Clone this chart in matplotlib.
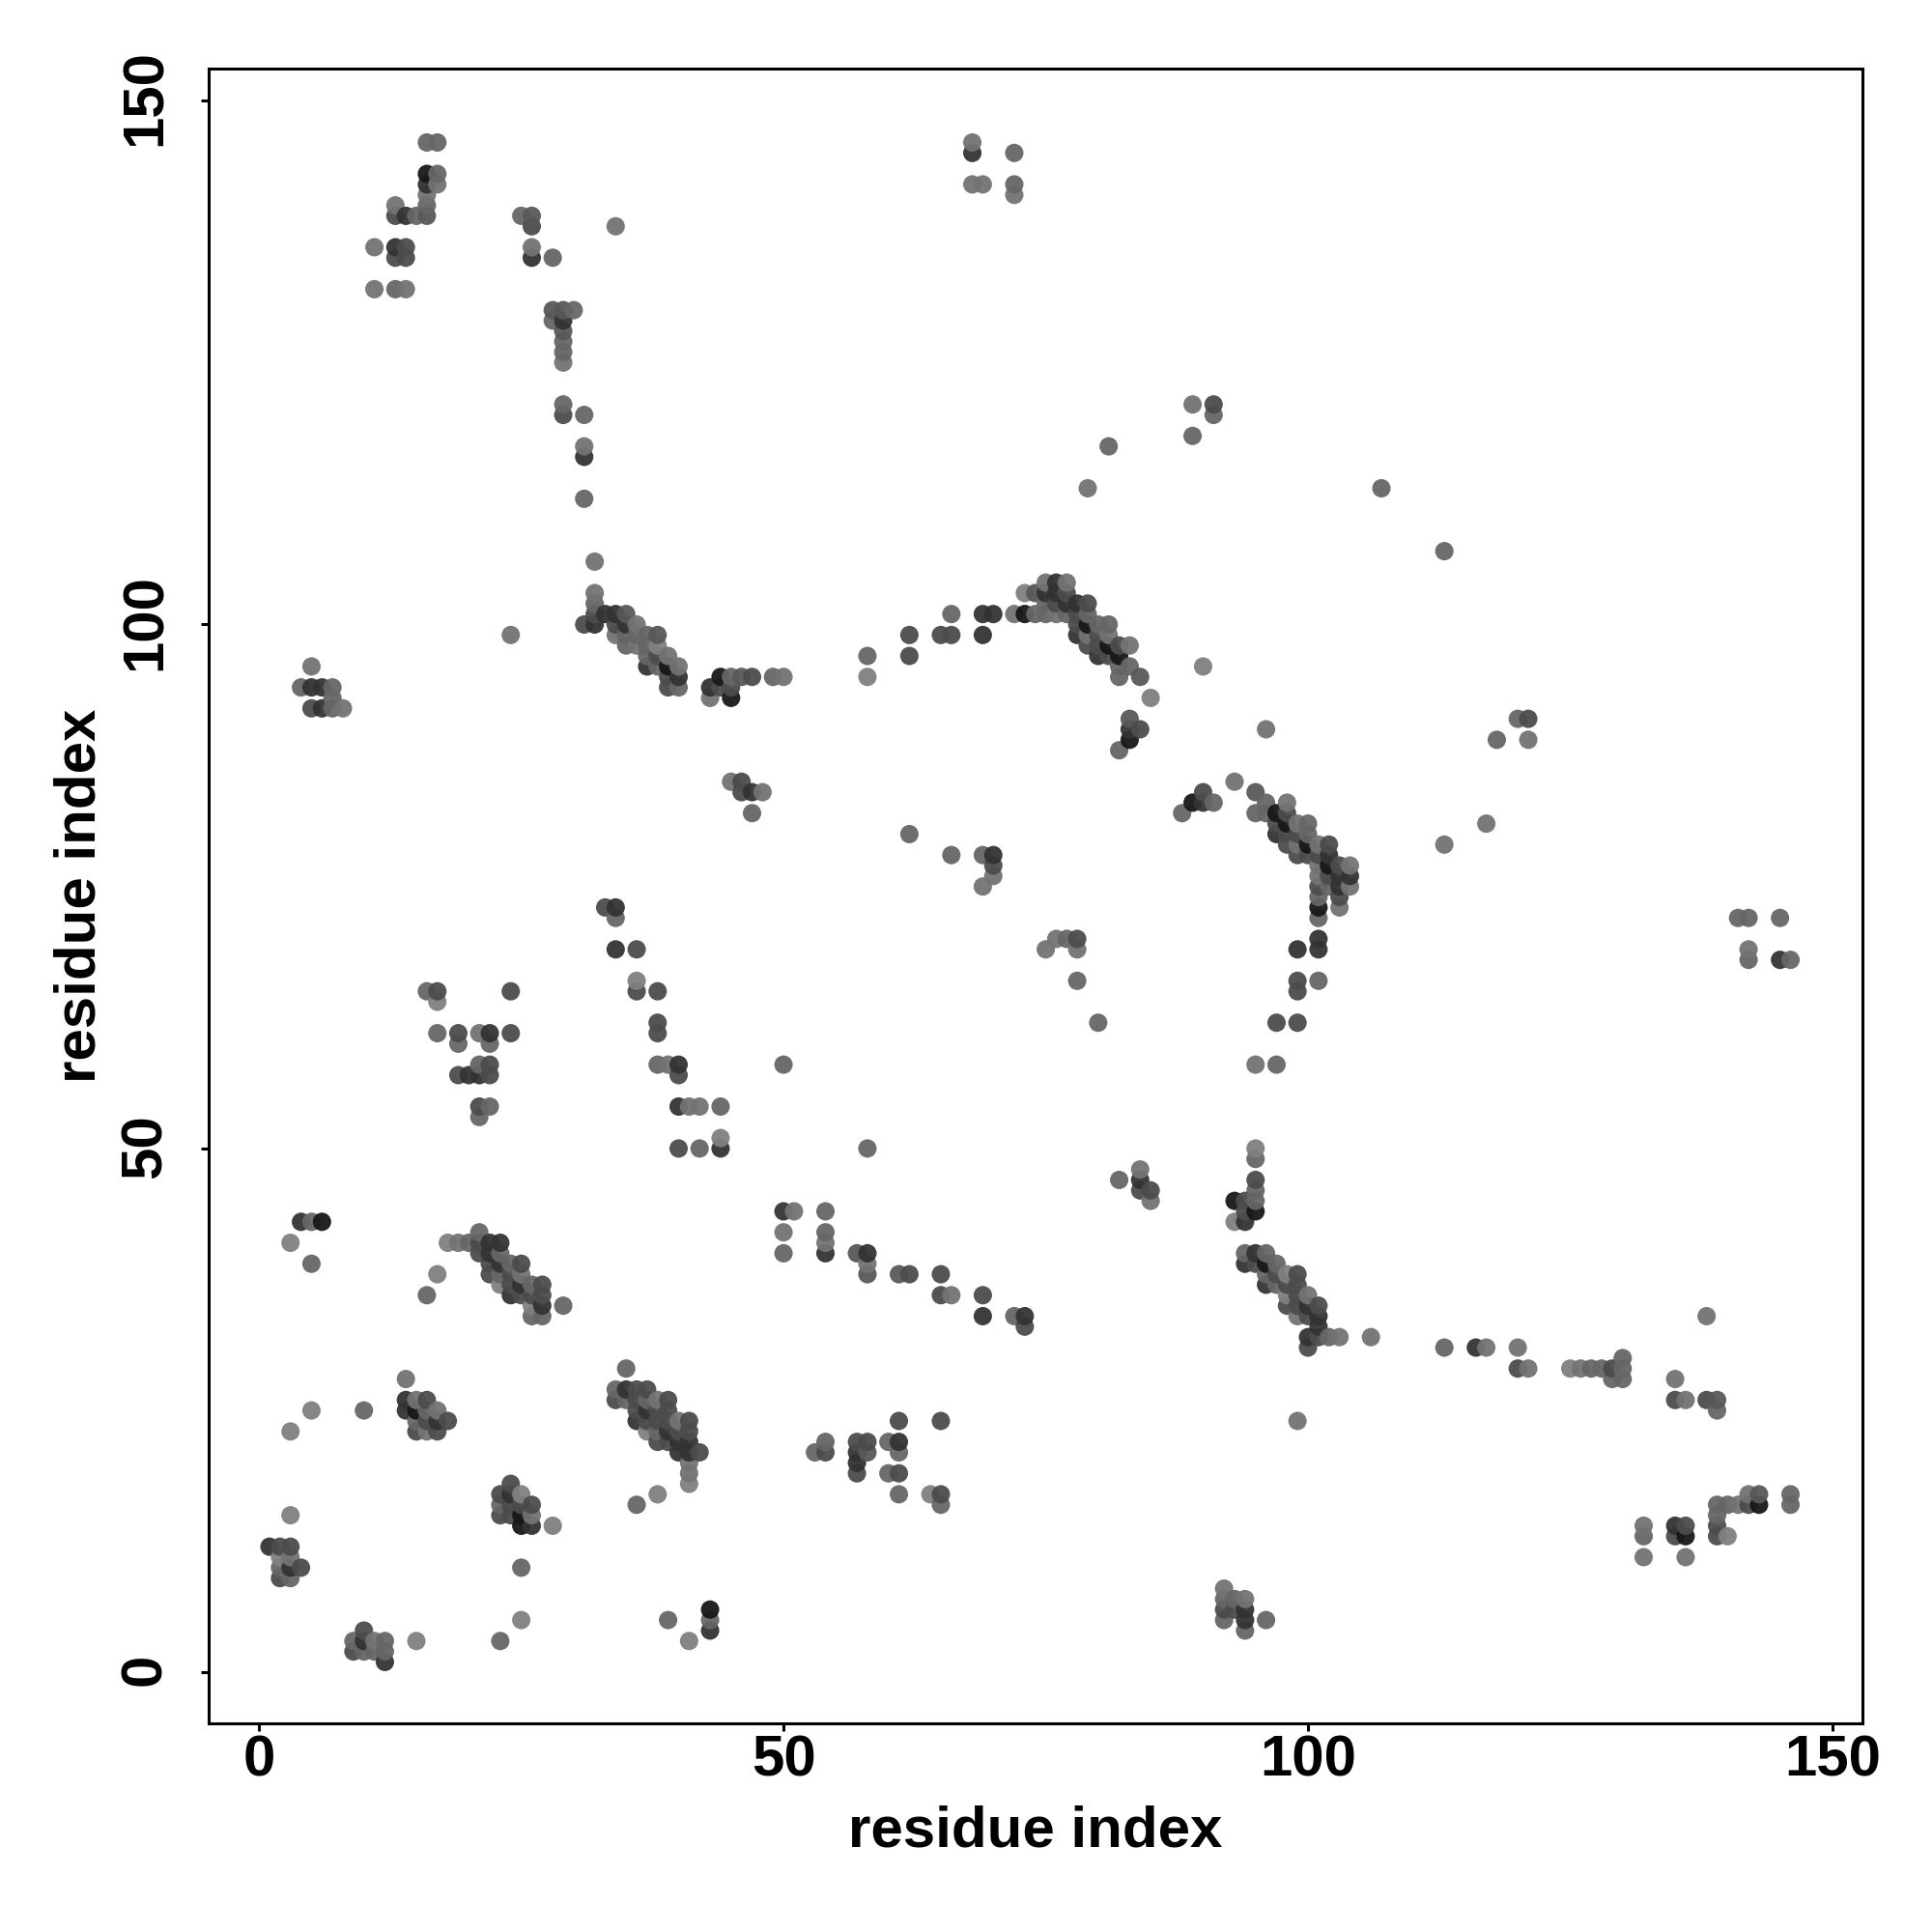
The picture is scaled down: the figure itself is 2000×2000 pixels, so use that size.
#!/usr/bin/env python3
import matplotlib as mpl
import matplotlib.pyplot as plt
import numpy as np
from matplotlib.transforms import ScaledTranslation

mpl.rcParams["font.family"] = ["Liberation Sans", "DejaVu Sans"]
mpl.rcParams["font.weight"] = "bold"

# contact map, one line per residue on the x axis
res_x = [
    1,
    2, 2, 2, 2,
    3, 3, 3, 3, 3, 3, 3,
    4, 4, 4,
    5, 5, 5, 5, 5, 5,
    6, 6, 6,
    7, 7, 7,
    8,
    9, 9,
    10, 10, 10, 10,
    11, 11, 11, 11,
    12, 12, 12,
    13, 13, 13, 13, 13,
    14, 14, 14, 14, 14, 14, 14,
    15, 15, 15, 15, 15, 15,
    16, 16, 16, 16, 16, 16, 16, 16, 16, 16, 16, 16,
    17, 17, 17, 17, 17, 17, 17, 17, 17, 17,
    18, 18,
    19, 19, 19, 19,
    20, 20,
    21, 21, 21, 21, 21, 21, 21, 21,
    22, 22, 22, 22, 22, 22, 22, 22, 22,
    23, 23, 23, 23, 23, 23, 23, 23, 23,
    24, 24, 24, 24, 24, 24, 24, 24, 24, 24, 24,
    25, 25, 25, 25, 25, 25, 25, 25, 25, 25, 25,
    26, 26, 26, 26, 26, 26, 26, 26, 26, 26, 26,
    27, 27, 27, 27,
    28, 28, 28, 28,
    29, 29, 29, 29, 29, 29, 29, 29, 29,
    30,
    31, 31, 31, 31, 31,
    32, 32, 32, 32, 32,
    33, 33,
    34, 34, 34, 34, 34, 34, 34, 34, 34,
    35, 35, 35, 35, 35, 35, 35,
    36, 36, 36, 36, 36, 36, 36, 36, 36, 36, 36,
    37, 37, 37, 37, 37, 37, 37, 37, 37,
    38, 38, 38, 38, 38, 38, 38, 38, 38, 38, 38, 38, 38, 38,
    39, 39, 39, 39, 39, 39, 39, 39, 39, 39, 39,
    40, 40, 40, 40, 40, 40, 40, 40, 40, 40, 40,
    41, 41, 41, 41, 41, 41, 41, 41, 41,
    42, 42, 42,
    43, 43, 43, 43, 43,
    44, 44, 44, 44, 44,
    45, 45, 45, 45,
    46, 46, 46,
    47, 47, 47,
    48,
    49,
    50, 50, 50, 50, 50,
    51,
    53,
    54, 54, 54, 54, 54, 54,
    57, 57, 57, 57, 57,
    58, 58, 58, 58, 58, 58, 58, 58,
    60, 60,
    61, 61, 61, 61, 61, 61,
    62, 62, 62, 62,
    64,
    65, 65, 65, 65, 65, 65,
    66, 66, 66, 66,
    68, 68, 68,
    69, 69, 69, 69, 69, 69, 69,
    70, 70, 70, 70,
    72, 72, 72, 72, 72,
    73, 73, 73, 73,
    74, 74,
    75, 75, 75, 75, 75,
    76, 76, 76, 76, 76,
    77, 77, 77, 77, 77,
    78, 78, 78, 78, 78, 78, 78,
    79, 79, 79, 79, 79, 79,
    80, 80, 80, 80, 80,
    81, 81, 81, 81, 81,
    82, 82, 82, 82, 82, 82,
    83, 83, 83, 83, 83,
    84, 84, 84, 84, 84,
    85, 85, 85,
    88,
    89, 89, 89,
    90, 90, 90,
    91, 91, 91,
    92, 92, 92, 92,
    93, 93, 93, 93, 93,
    94, 94, 94, 94, 94, 94, 94, 94, 94,
    95, 95, 95, 95, 95, 95, 95, 95, 95, 95, 95,
    96, 96, 96, 96, 96, 96, 96, 96,
    97, 97, 97, 97, 97, 97, 97, 97,
    98, 98, 98, 98, 98, 98, 98, 98, 98,
    99, 99, 99, 99, 99, 99, 99, 99, 99, 99, 99, 99, 99, 99,
    100, 100, 100, 100, 100, 100, 100, 100, 100,
    101, 101, 101, 101, 101, 101, 101, 101, 101, 101, 101, 101, 101, 101, 101,
    102, 102, 102, 102, 102, 102,
    103, 103, 103, 103, 103, 103,
    104, 104, 104,
    106,
    107,
    113, 113, 113,
    116,
    117, 117,
    118,
    120, 120, 120,
    121, 121, 121,
    125,
    126,
    127,
    128,
    129, 129,
    130, 130, 130,
    132, 132, 132,
    135, 135, 135, 135,
    136, 136, 136, 136,
    138, 138,
    139, 139, 139, 139, 139, 139,
    140, 140,
    141, 141,
    142, 142, 142, 142, 142,
    143, 143,
    145, 145,
    146, 146, 146,
]
res_y = [
    12,
    9, 10, 11, 12,
    9, 10, 11, 12, 15, 23, 41,
    10, 43, 94,
    25, 39, 43, 92, 94, 96,
    43, 92, 94,
    92, 93, 94,
    92,
    2, 3,
    2, 3, 4, 25,
    2, 3, 132, 136,
    1, 2, 3,
    132, 135, 136, 139, 140,
    25, 26, 28, 132, 135, 136, 139,
    3, 23, 24, 25, 26, 139,
    23, 24, 25, 26, 36, 65, 139, 140, 141, 142, 143, 146,
    23, 24, 25, 38, 61, 64, 65, 142, 143, 146,
    24, 41,
    41, 57, 60, 61,
    41, 57,
    40, 41, 42, 53, 54, 57, 58, 61,
    38, 39, 40, 41, 54, 57, 58, 60, 61,
    3, 15, 16, 17, 37, 38, 39, 40, 41,
    15, 16, 17, 18, 36, 37, 38, 39, 61, 65, 99,
    5, 10, 14, 15, 16, 17, 36, 37, 38, 39, 139,
    14, 15, 16, 34, 35, 36, 37, 135, 136, 138, 139,
    34, 35, 36, 37,
    14, 129, 130, 135,
    35, 120, 121, 125, 126, 127, 128, 129, 130,
    130,
    100, 112, 116, 117, 120,
    100, 101, 102, 103, 106,
    73, 101,
    26, 27, 69, 72, 73, 99, 100, 101, 138,
    26, 27, 29, 98, 99, 100, 101,
    16, 24, 25, 26, 27, 65, 66, 69, 98, 99, 100,
    23, 24, 25, 26, 27, 96, 97, 98, 99,
    17, 22, 23, 24, 25, 26, 58, 61, 62, 65, 96, 97, 98, 99,
    5, 22, 23, 24, 25, 26, 58, 94, 95, 96, 97,
    21, 22, 23, 24, 50, 54, 57, 58, 94, 95, 96,
    3, 18, 19, 20, 21, 22, 23, 24, 54,
    21, 50, 54,
    4, 5, 6, 93, 94,
    50, 51, 54, 94, 95,
    85, 93, 94, 95,
    84, 85, 95,
    82, 84, 95,
    84,
    95,
    40, 42, 44, 58, 95,
    44,
    21,
    21, 22, 40, 41, 42, 44,
    19, 20, 21, 22, 40,
    21, 22, 38, 39, 40, 50, 95, 97,
    19, 22,
    17, 19, 21, 22, 24, 38,
    38, 80, 97, 99,
    17,
    16, 17, 24, 36, 38, 99,
    36, 78, 99, 101,
    142, 145, 146,
    34, 36, 75, 78, 99, 101, 142,
    76, 77, 78, 101,
    34, 101, 141, 142, 145,
    33, 34, 101, 103,
    101, 103,
    69, 101, 102, 103, 104,
    70, 101, 102, 103, 104,
    70, 101, 102, 103, 104,
    66, 69, 70, 99, 100, 101, 102,
    98, 99, 100, 101, 102, 113,
    62, 97, 98, 99, 100,
    97, 98, 99, 100, 117,
    47, 88, 95, 96, 97, 98,
    89, 90, 91, 96, 98,
    46, 47, 48, 90, 95,
    45, 46, 93,
    82,
    83, 118, 121,
    83, 84, 96,
    83, 120, 121,
    5, 6, 7, 8,
    6, 7, 43, 45, 85,
    4, 5, 6, 7, 39, 40, 43, 44, 45,
    39, 40, 44, 45, 46, 47, 49, 50, 58, 82, 84,
    5, 37, 38, 39, 40, 82, 83, 90,
    37, 38, 39, 58, 62, 80, 81, 82,
    35, 36, 37, 38, 79, 80, 81, 82, 83,
    24, 34, 35, 36, 37, 38, 62, 65, 66, 69, 78, 79, 80, 81,
    31, 32, 34, 35, 36, 78, 79, 80, 81,
    32, 33, 34, 35, 66, 69, 70, 72, 73, 74, 75, 76, 77, 78, 79,
    32, 75, 76, 77, 78, 79,
    32, 73, 74, 75, 76, 77,
    75, 76, 77,
    32,
    113,
    31, 79, 107,
    31,
    31, 81,
    89,
    29, 31, 91,
    29, 89, 91,
    29,
    29,
    29,
    29,
    28, 29,
    28, 29, 30,
    11, 13, 14,
    13, 14, 26, 28,
    11, 13, 14, 26,
    26, 34,
    13, 14, 15, 16, 25, 26,
    13, 16,
    16, 72,
    16, 17, 68, 69, 72,
    16, 17,
    68, 72,
    16, 17, 68,
]
# grey level of each point, 0 black to 255 white
grey = [
    51,
    76, 102, 128, 76,
    102, 51, 115, 76, 128, 128, 128,
    76, 51, 102,
    128, 102, 102, 76, 51, 115,
    24, 51, 51,
    102, 102, 102,
    115,
    76, 102,
    102, 51, 76, 102,
    102, 115, 115, 115,
    51, 102, 102,
    102, 76, 51, 76, 115,
    51, 51, 115, 115, 76, 76, 51,
    128, 76, 102, 24, 115, 102,
    115, 76, 102, 76, 102, 102, 88, 102, 115, 51, 24, 102,
    76, 51, 115, 128, 102, 128, 76, 115, 102, 102,
    76, 128,
    115, 76, 102, 76,
    102, 51,
    76, 76, 102, 102, 76, 51, 102, 115,
    76, 76, 51, 51, 102, 76, 76, 102, 51,
    102, 76, 102, 76, 128, 102, 51, 102, 51,
    76, 76, 51, 76, 51, 76, 76, 102, 76, 76, 115,
    128, 102, 24, 24, 76, 128, 76, 51, 115, 76, 102,
    51, 115, 76, 102, 128, 76, 102, 51, 115, 76, 88,
    102, 51, 76, 76,
    128, 102, 88, 102,
    102, 76, 102, 115, 102, 102, 88, 51, 88,
    102,
    76, 102, 51, 115, 102,
    51, 76, 102, 115, 115,
    76, 51,
    76, 102, 51, 102, 51, 115, 76, 51, 115,
    102, 51, 102, 102, 102, 51, 88,
    102, 51, 76, 76, 76, 76, 128, 76, 115, 102, 115,
    128, 76, 51, 102, 76, 51, 102, 102, 102,
    128, 76, 102, 76, 76, 115, 102, 76, 76, 76, 102, 76, 128, 88,
    102, 76, 51, 76, 76, 76, 115, 76, 76, 24, 115,
    51, 51, 76, 115, 76, 51, 76, 51, 102, 51, 115,
    128, 128, 115, 115, 51, 51, 76, 76, 115,
    76, 102, 115,
    51, 102, 24, 115, 51,
    51, 128, 102, 76, 24,
    115, 24, 76, 102,
    76, 76, 88,
    102, 51, 76,
    115,
    102,
    102, 115, 51, 102, 115,
    115,
    102,
    76, 102, 51, 115, 102, 102,
    76, 51, 51, 76, 88,
    88, 76, 88, 115, 51, 102, 128, 102,
    102, 102,
    102, 76, 102, 51, 76, 88,
    76, 102, 76, 76,
    128,
    102, 76, 76, 76, 76, 76,
    115, 102, 76, 102,
    115, 51, 115,
    51, 76, 115, 102, 51, 51, 115,
    115, 76, 51, 51,
    102, 115, 115, 102, 102,
    76, 51, 24, 128,
    102, 88,
    115, 102, 102, 51, 115,
    115, 115, 76, 51, 51,
    102, 102, 51, 76, 115,
    102, 115, 76, 51, 76, 76, 51,
    76, 115, 24, 102, 76, 115,
    102, 51, 76, 76, 102,
    76, 24, 115, 102, 102,
    102, 102, 102, 102, 24, 76,
    24, 51, 88, 102, 115,
    76, 51, 115, 76, 88,
    115, 76, 128,
    102,
    24, 102, 115,
    51, 76, 128,
    102, 102, 76,
    102, 76, 102, 115,
    76, 102, 128, 24, 115,
    102, 51, 51, 115, 51, 102, 51, 76, 76,
    76, 51, 24, 102, 102, 76, 102, 128, 115, 102, 88,
    102, 51, 102, 24, 102, 102, 102, 115,
    102, 76, 102, 102, 76, 51, 76, 24,
    76, 128, 76, 128, 76, 76, 24, 76, 115,
    115, 115, 76, 76, 76, 76, 76, 76, 76, 51, 76, 115, 76, 115,
    76, 51, 76, 51, 115, 76, 24, 102, 102,
    76, 51, 51, 76, 102, 51, 51, 102, 24, 102, 76, 115, 115, 76, 115,
    102, 102, 76, 24, 51, 76,
    115, 115, 76, 51, 51, 76,
    115, 51, 115,
    115,
    102,
    102, 115, 102,
    51,
    115, 115,
    102,
    76, 115, 102,
    115, 115, 76,
    128,
    115,
    102,
    102,
    102, 76,
    102, 102, 102,
    115, 102, 115,
    76, 51, 76, 115,
    115, 24, 76, 115,
    76, 115,
    76, 76, 102, 102, 102, 88,
    128, 102,
    115, 102,
    76, 115, 102, 115, 102,
    24, 88,
    51, 102,
    102, 102, 102,
]
x_ticks = [0, 50, 100, 150]
y_ticks = [0, 50, 100, 150]

fig = plt.figure(figsize=(10, 10), dpi=200)
ax = fig.add_axes([0.1079, 0.1082, 0.8559, 0.8563])

colors = [(g / 255, g / 255, g / 255) for g in grey]
ax.scatter(res_x, res_y, s=47, c=colors, alpha=0.95, linewidths=0)

ax.set_xlim(-4.82, 152.82)
ax.set_ylim(-4.82, 153.05)
ax.set_xticks(x_ticks)
ax.set_yticks(y_ticks)
ax.tick_params(length=3, width=1.1, labelsize=21.6)
ax.tick_params(axis="x", pad=1.3)
ax.tick_params(axis="y", labelrotation=90, pad=10.5)
# nudge the rotated numbers up a little so they sit on their ticks
nudge = ScaledTranslation(0, 1 / 72, fig.dpi_scale_trans)
for label in ax.get_yticklabels():
    label.set_verticalalignment("center")
    label.set_transform(label.get_transform() + nudge)
for side in ax.spines.values():
    side.set_linewidth(1.1)

ax.set_xlabel("residue index", fontsize=21.6, fontweight="bold")
ax.set_ylabel("residue index", fontsize=21.6, fontweight="bold")
ax.xaxis.set_label_coords(0.5, -0.0496)
ax.yaxis.set_label_coords(-0.0618, 0.5)

fig.savefig("out.png", dpi=200)
